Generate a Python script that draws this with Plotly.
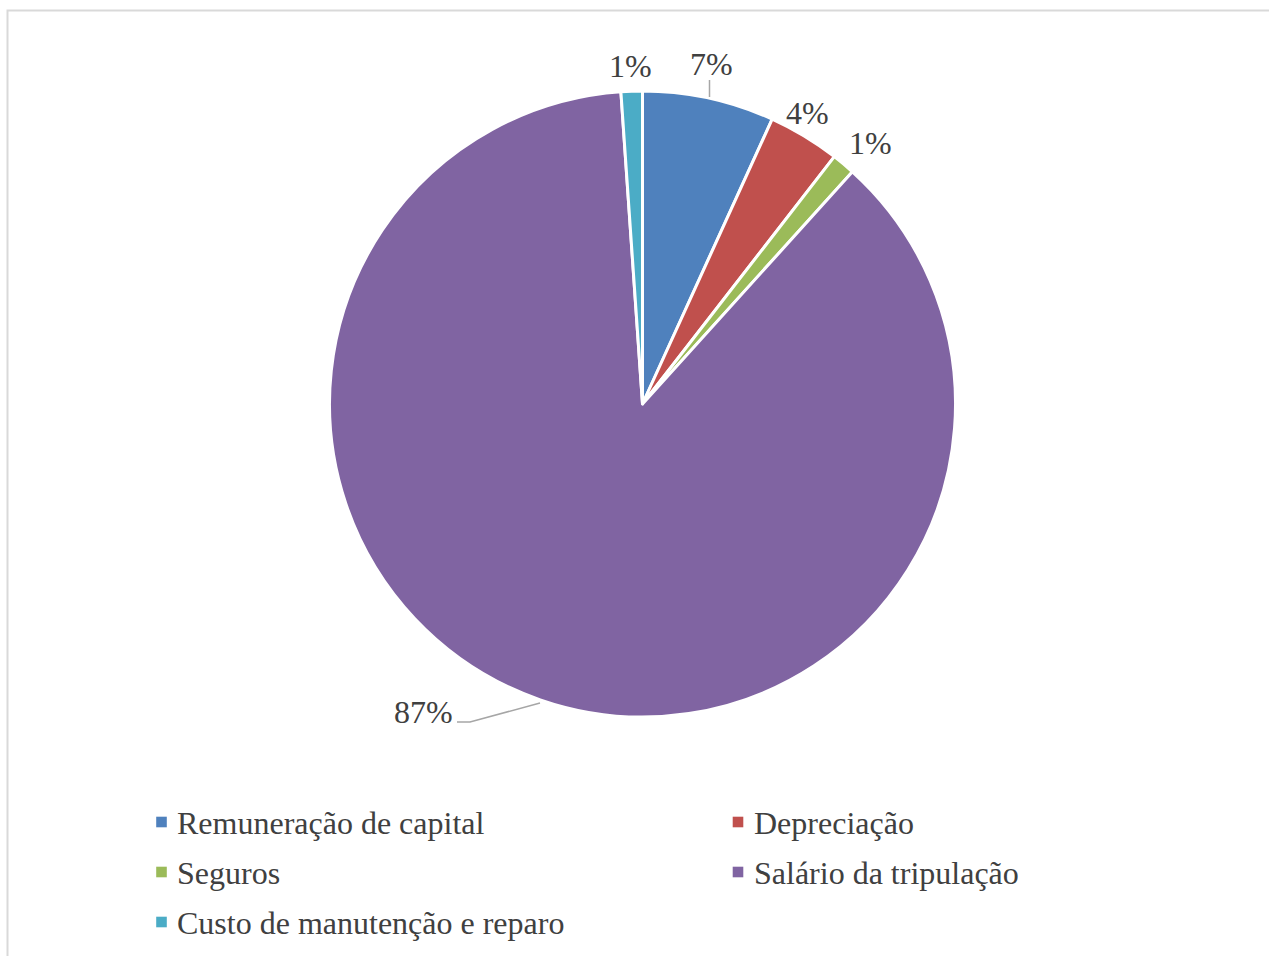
import plotly.graph_objects as go

# Cost breakdown shares (%) read clockwise from 12 o'clock
categories = [
    "Remuneração de capital",
    "Depreciação",
    "Seguros",
    "Salário da tripulação",
    "Custo de manutenção e reparo",
]
shares = [6.8, 3.7, 1.2, 87.2, 1.1]
colors = ["#4F81BD", "#C0504D", "#9BBB59", "#8064A2", "#4BACC6"]

W, H = 1269, 956
FONT = "Liberation Serif, Times New Roman, serif"
TEXT_COLOR = "#404040"
LEADER_COLOR = "#A6A6A6"
FONT_SIZE = 32

# pie geometry in pixels
cx, cy, r = 642.5, 404.0, 313.0

# data-label placement (pixel centres of each percentage label)
label_xy = [(711, 64), (807, 113), (870, 143), (423, 712), (630, 66)]


def px(x):
    return x / W


def py(y):
    return 1 - y / H


total = sum(shares)
pct_text = [f"{round(v / total * 100)}%" for v in shares]

fig = go.Figure(
    go.Pie(
        labels=categories,
        values=shares,
        sort=False,
        direction="clockwise",
        rotation=0,
        marker=dict(colors=colors, line=dict(color="white", width=3)),
        textinfo="none",
        domain=dict(x=[px(cx - r), px(cx + r)], y=[py(cy + r), py(cy - r)]),
        hoverinfo="label+percent",
        showlegend=False,
    )
)

# percentage labels
for txt, (lx, ly) in zip(pct_text, label_xy):
    fig.add_annotation(
        xref="paper", yref="paper", x=px(lx), y=py(ly),
        text=txt, showarrow=False, xanchor="center", yanchor="middle",
        font=dict(family=FONT, size=FONT_SIZE, color=TEXT_COLOR),
    )

# leader lines
fig.add_shape(
    type="line", xref="paper", yref="paper",
    x0=px(709.5), y0=py(80), x1=px(709.5), y1=py(97),
    line=dict(color=LEADER_COLOR, width=1.5),
)
fig.add_shape(
    type="path", xref="paper", yref="paper",
    path=f"M {px(457)},{py(722)} L {px(470)},{py(722)} L {px(540)},{py(703)}",
    line=dict(color=LEADER_COLOR, width=1.5),
)

# legend: two columns of square swatches with category names
col_x = [161.5, 738.0]
row_y = [822.0, 872.0, 922.0]
sq = 5.3
for i, (name, col) in enumerate(zip(categories, colors)):
    mx, my = col_x[i % 2], row_y[i // 2]
    fig.add_shape(
        type="rect", xref="paper", yref="paper",
        x0=px(mx - sq), x1=px(mx + sq), y0=py(my + sq), y1=py(my - sq),
        line=dict(width=0), fillcolor=col,
    )
    fig.add_annotation(
        xref="paper", yref="paper", x=px(mx + 13.5), y=py(my + 1),
        text=name, showarrow=False, xanchor="left", yanchor="middle",
        font=dict(family=FONT, size=FONT_SIZE, color=TEXT_COLOR),
    )

# chart area frame
fig.add_shape(
    type="rect", xref="paper", yref="paper",
    x0=px(7.5), x1=1.02, y0=-0.02, y1=py(10.5),
    line=dict(color="#D9D9D9", width=2), fillcolor="rgba(0,0,0,0)", layer="below",
)

fig.update_layout(
    width=W, height=H,
    margin=dict(l=0, r=0, t=0, b=0),
    paper_bgcolor="white",
    plot_bgcolor="white",
    showlegend=False,
)

fig.write_html("out.html")
